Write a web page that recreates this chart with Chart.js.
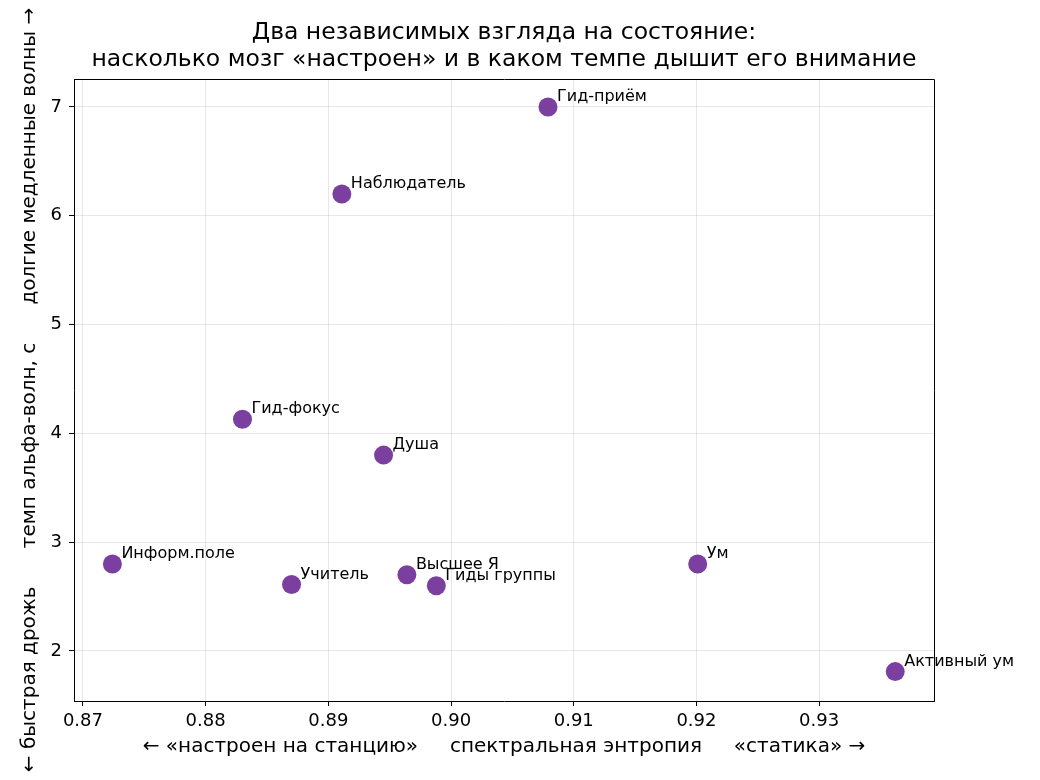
<!DOCTYPE html>
<html>
<head>
<meta charset="utf-8">
<script src="https://cdn.jsdelivr.net/npm/chart.js@4"></script>
<style>
  html, body { margin: 0; padding: 0; background: #fff; }
  #wrap { width: 1040px; height: 780px; }
</style>
</head>
<body>
<div id="wrap"><canvas id="chart" width="1040" height="780"></canvas></div>
<script>
/* =========================================
   DATA
========================================= */
const names = ["Гид-приём", "Наблюдатель", "Гид-фокус", "Душа", "Информ.поле",
               "Учитель", "Высшее Я", "Гиды группы", "Ум", "Активный ум"];
const entropy = [0.9079, 0.8911, 0.8830, 0.8945, 0.8724,
                 0.8870, 0.8964, 0.8988, 0.9201, 0.9362];
const alphaTempo = [7.00, 6.20, 4.13, 3.80, 2.80,
                    2.61, 2.70, 2.60, 2.80, 1.81];

const xTicks = [0.87, 0.88, 0.89, 0.90, 0.91, 0.92, 0.93];
const yTicks = [2, 3, 4, 5, 6, 7];

const titleLines = ["Два независимых взгляда на состояние:",
                    "насколько мозг «настроен» и в каком темпе дышит его внимание"];
const xLabel = "← «настроен на станцию»     спектральная энтропия     «статика» →";
const yLabel = "← быстрая дрожь      темп альфа-волн, с      долгие медленные волны →";

const FONT = "'DejaVu Sans', sans-serif";
const PURPLE = "#7b3fa0";

/* =========================================
   PLUGINS: title, frame, point labels
========================================= */
const extras = {
  id: "extras",
  afterDatasetsDraw(chart) {
    const ctx = chart.ctx;
    const meta = chart.getDatasetMeta(0);
    ctx.save();
    ctx.fillStyle = "#000";
    ctx.font = "16px " + FONT;
    ctx.textAlign = "left";
    ctx.textBaseline = "alphabetic";
    meta.data.forEach((pt, i) => {
      ctx.fillText(names[i], pt.x + 9, pt.y - 6);
    });
    ctx.restore();
  },
  afterDraw(chart) {
    const ctx = chart.ctx;
    const a = chart.chartArea;
    ctx.save();
    // top + right spines
    ctx.strokeStyle = "#000";
    ctx.lineWidth = 1;
    ctx.beginPath();
    ctx.moveTo(Math.round(a.left) + 0.5, Math.round(a.top) + 0.5);
    ctx.lineTo(Math.round(a.right) + 0.5, Math.round(a.top) + 0.5);
    ctx.lineTo(Math.round(a.right) + 0.5, Math.round(a.bottom) + 0.5);
    ctx.stroke();
    // title
    ctx.fillStyle = "#000";
    ctx.font = "23.5px " + FONT;
    ctx.textAlign = "center";
    ctx.textBaseline = "middle";
    const cx = (a.left + a.right) / 2;
    ctx.fillText(titleLines[0], cx, 33);
    ctx.fillText(titleLines[1], cx, 60);
    ctx.restore();
  }
};

/* =========================================
   CHART
========================================= */
new Chart(document.getElementById("chart"), {
  type: "scatter",
  data: {
    datasets: [{
      data: entropy.map((x, i) => ({ x: x, y: alphaTempo[i] })),
      backgroundColor: PURPLE,
      borderColor: PURPLE,
      borderWidth: 0,
      pointRadius: 9.5,
      pointHoverRadius: 9.5
    }]
  },
  options: {
    responsive: false,
    animation: false,
    events: [],
    layout: { padding: { left: 0, right: 106, top: 79, bottom: 0 } },
    plugins: {
      legend: { display: false },
      tooltip: { enabled: false },
      title: { display: false }
    },
    scales: {
      x: {
        type: "linear",
        min: 0.86927,
        max: 0.93936,
        afterFit: s => { s.height = 79; },
        afterBuildTicks: s => { s.ticks = xTicks.map(v => ({ value: v })); },
        ticks: {
          color: "#000",
          font: { family: FONT, size: 18 },
          padding: 5,
          maxRotation: 0,
          autoSkip: false,
          callback: v => Number(v).toFixed(2)
        },
        grid: {
          color: "rgba(176,176,176,0.3)",
          tickColor: "#000",
          tickLength: 5
        },
        border: { color: "#000", width: 1 },
        title: {
          display: true,
          text: xLabel,
          color: "#000",
          font: { family: FONT, size: 20 },
          padding: { top: 0, bottom: 21 }
        }
      },
      y: {
        type: "linear",
        min: 1.54,
        max: 7.257,
        afterFit: s => { s.width = 74; },
        afterBuildTicks: s => { s.ticks = yTicks.map(v => ({ value: v })); },
        ticks: {
          color: "#000",
          font: { family: FONT, size: 18 },
          padding: 7,
          autoSkip: false,
          callback: v => String(v)
        },
        grid: {
          color: "rgba(176,176,176,0.3)",
          tickColor: "#000",
          tickLength: 5
        },
        border: { color: "#000", width: 1 },
        title: {
          display: true,
          text: yLabel,
          color: "#000",
          font: { family: FONT, size: 20 },
          padding: { top: 18, bottom: 0 }
        }
      }
    }
  },
  plugins: [extras]
});
</script>
</body>
</html>
